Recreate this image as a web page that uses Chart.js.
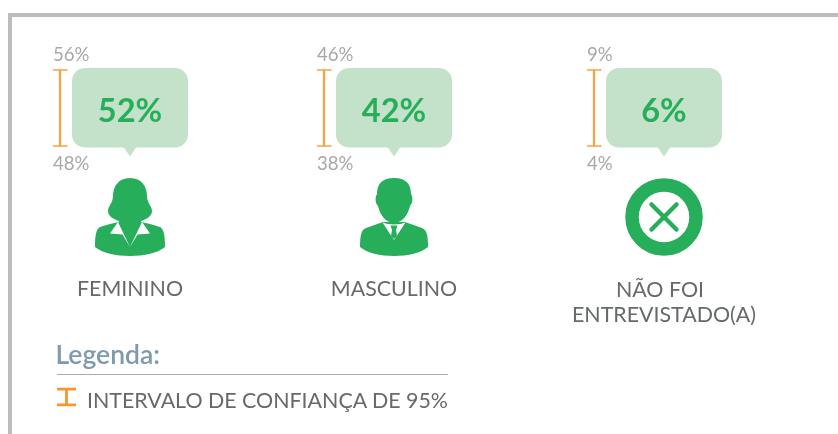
<!DOCTYPE html>
<html>
<head>
<meta charset="utf-8">
<script src="https://cdn.jsdelivr.net/npm/chart.js@4"></script>
<style>
	html, body { margin: 0; padding: 0; background: #fff; overflow: hidden; }
	body { width: 838px; height: 434px; position: relative; font-family: Lato, sans-serif; }
	canvas { position: absolute; top: 0; }
	#frameTop { position: absolute; left: 8px; top: 13px; width: 830px; height: 4px; background: #b9bebc; }
	#frameLeft { position: absolute; left: 8px; top: 13px; width: 4px; height: 421px; background: #b9bebc; }
	#legendTitle { position: absolute; left: 55.5px; top: 339px; font-size: 26.5px; line-height: 30px; font-weight: 600; color: #7f9aad; }
	#legendLine { position: absolute; left: 57px; top: 374px; width: 391px; height: 1px; background: #a9adad; }
	#legendIcon { position: absolute; left: 57px; top: 387px; }
	#legendText { position: absolute; left: 87px; top: 386.5px; font-size: 21.4px; line-height: 26px; color: #666a6a; white-space: nowrap; }
</style>
</head>
<body>
<div id="frameTop"></div>
<div id="frameLeft"></div>
<canvas id="card0" width="240" height="434" style="left:30px"></canvas>
<canvas id="card1" width="240" height="434" style="left:294px"></canvas>
<canvas id="card2" width="240" height="434" style="left:564px"></canvas>
<div id="legendTitle">Legenda:</div>
<div id="legendLine"></div>
<svg id="legendIcon" width="20" height="20">
	<path d="M0 2.2H19M0 17.8H19M9.5 2.2V17.8" stroke="#f7962e" stroke-width="2.8" fill="none"/>
</svg>
<div id="legendText">INTERVALO DE CONFIANÇA DE 95%</div>
<script>
var categories = [['FEMININO'], ['MASCULINO'], ['NÃO FOI', 'ENTREVISTADO(A)']];
var shares = [52, 42, 6];
var lowerBounds = [48, 38, 4];
var upperBounds = [56, 46, 9];
var icons = ['female', 'male', 'cross'];

var GREEN = '#27ae5a';
var BUBBLE = '#c4e2c9';
var ORANGE = '#f9a03f';
var BOUNDS_GREY = '#a8a8a8';
var LABEL_GREY = '#666a6a';

function drawFemale(ctx, cx) {
	ctx.fillStyle = GREEN;
	ctx.beginPath();
	ctx.moveTo(cx, 178);
	ctx.bezierCurveTo(cx + 12, 178, cx + 17, 187, cx + 17, 196);
	ctx.bezierCurveTo(cx + 17, 203, cx + 22, 206, cx + 22, 211);
	ctx.bezierCurveTo(cx + 22, 216, cx + 17, 219, cx + 11, 221);
	ctx.lineTo(cx + 11, 222);
	ctx.lineTo(cx + 20, 224);
	ctx.lineTo(cx + 30, 227);
	ctx.bezierCurveTo(cx + 34, 229, cx + 35, 236, cx + 35, 247);
	ctx.bezierCurveTo(cx + 28, 253, cx + 14, 256, cx, 256);
	ctx.bezierCurveTo(cx - 14, 256, cx - 28, 253, cx - 35, 247);
	ctx.bezierCurveTo(cx - 35, 236, cx - 34, 229, cx - 30, 227);
	ctx.lineTo(cx - 20, 224);
	ctx.lineTo(cx - 11, 222);
	ctx.lineTo(cx - 11, 221);
	ctx.bezierCurveTo(cx - 17, 219, cx - 22, 216, cx - 22, 211);
	ctx.bezierCurveTo(cx - 22, 206, cx - 17, 203, cx - 17, 196);
	ctx.bezierCurveTo(cx - 17, 187, cx - 12, 178, cx, 178);
	ctx.fill();

	// lapels
	ctx.fillStyle = '#fff';
	[-1, 1].forEach(function(side) {
		ctx.beginPath();
		ctx.moveTo(cx + side * 20, 233.5);
		ctx.lineTo(cx + side * 12, 222);
		ctx.lineTo(cx, 247);
		ctx.lineTo(cx + side * 7.5, 234.5);
		ctx.fill();
	});
}

function drawMale(ctx, cx) {
	ctx.fillStyle = GREEN;
	ctx.beginPath();
	ctx.moveTo(cx, 178);
	ctx.bezierCurveTo(cx + 12, 178, cx + 17, 184, cx + 17, 194);
	ctx.bezierCurveTo(cx + 19, 197, cx + 19, 203, cx + 16, 206);
	ctx.bezierCurveTo(cx + 14, 215, cx + 8, 223, cx, 223);
	ctx.bezierCurveTo(cx - 8, 223, cx - 14, 215, cx - 16, 206);
	ctx.bezierCurveTo(cx - 19, 203, cx - 19, 197, cx - 17, 194);
	ctx.bezierCurveTo(cx - 17, 184, cx - 12, 178, cx, 178);
	ctx.fill();

	ctx.beginPath();
	ctx.moveTo(cx - 11, 222);
	ctx.lineTo(cx + 11, 222);
	ctx.lineTo(cx + 28, 228);
	ctx.bezierCurveTo(cx + 33, 230, cx + 34, 236, cx + 34, 247);
	ctx.bezierCurveTo(cx + 27, 253, cx + 14, 256, cx, 256);
	ctx.bezierCurveTo(cx - 14, 256, cx - 27, 253, cx - 34, 247);
	ctx.bezierCurveTo(cx - 34, 236, cx - 33, 230, cx - 28, 228);
	ctx.closePath();
	ctx.fill();

	// shirt and tie
	ctx.fillStyle = '#fff';
	ctx.beginPath();
	ctx.moveTo(cx - 11.5, 222.5);
	ctx.bezierCurveTo(cx - 6, 225, cx + 6, 225, cx + 11.5, 222.5);
	ctx.lineTo(cx, 240);
	ctx.closePath();
	ctx.fill();
	ctx.fillStyle = GREEN;
	ctx.beginPath();
	ctx.moveTo(cx - 3.5, 225.5);
	ctx.lineTo(cx + 3.5, 225.5);
	ctx.lineTo(cx + 2, 230);
	ctx.lineTo(cx + 3, 236);
	ctx.lineTo(cx, 239);
	ctx.lineTo(cx - 3, 236);
	ctx.lineTo(cx - 2, 230);
	ctx.closePath();
	ctx.fill();
}

function drawCross(ctx, cx) {
	var cy = 217;
	ctx.strokeStyle = GREEN;
	ctx.lineWidth = 13.5;
	ctx.beginPath();
	ctx.arc(cx, cy, 32, 0, Math.PI * 2);
	ctx.stroke();
	ctx.lineWidth = 4.5;
	ctx.lineCap = 'round';
	ctx.beginPath();
	ctx.moveTo(cx - 12.5, cy - 12.5);
	ctx.lineTo(cx + 12.5, cy + 12.5);
	ctx.moveTo(cx + 12.5, cy - 12.5);
	ctx.lineTo(cx - 12.5, cy + 12.5);
	ctx.stroke();
}

var iconDrawers = { female: drawFemale, male: drawMale, cross: drawCross };

// caps, bounds, speech bubble, icon and category name around the whisker bar
var cardDecor = {
	id: 'cardDecor',
	afterDatasetsDraw: function(chart, args, opts) {
		var i = opts.index;
		var ctx = chart.ctx;
		var bar = chart.getDatasetMeta(0).data[0];
		var x = bar.x;
		var top = bar.y;
		var bottom = bar.base;
		var cx = x + 70;

		ctx.save();
		ctx.strokeStyle = ORANGE;
		ctx.lineWidth = 1.5;
		ctx.beginPath();
		ctx.moveTo(x - 7, top);
		ctx.lineTo(x + 7.5, top);
		ctx.moveTo(x - 7, bottom);
		ctx.lineTo(x + 7.5, bottom);
		ctx.stroke();

		ctx.fillStyle = BOUNDS_GREY;
		ctx.font = '18.6px Lato';
		ctx.textAlign = 'left';
		ctx.textBaseline = 'middle';
		ctx.fillText(upperBounds[i] + '%', x - 7, top - 15);
		ctx.fillText(lowerBounds[i] + '%', x - 7, bottom + 17.5);

		ctx.fillStyle = BUBBLE;
		ctx.beginPath();
		ctx.roundRect(x + 12, 68, 116, 79.5, 13);
		ctx.fill();
		ctx.beginPath();
		ctx.moveTo(cx - 6.5, 147);
		ctx.lineTo(cx + 6.5, 147);
		ctx.lineTo(cx, 156.5);
		ctx.closePath();
		ctx.fill();

		ctx.fillStyle = GREEN;
		ctx.font = 'bold 32.5px Lato';
		ctx.textAlign = 'center';
		ctx.fillText(shares[i] + '%', cx, 111.5);

		iconDrawers[icons[i]](ctx, cx);

		ctx.fillStyle = LABEL_GREY;
		ctx.font = '21.4px Lato';
		ctx.lineCap = 'butt';
		categories[i].forEach(function(line, n) {
			// the short first line of a two line label sits a little left and low
			var wrapped = categories[i].length > 1 && n == 0;
			ctx.fillText(line, wrapped ? cx - 4 : cx, wrapped ? 290 : 289 + n * 26);
		});
		ctx.restore();
	}
};

function loadCard(i) {
	var cardElement = document.getElementById('card' + i);
	return new Chart(cardElement, {
		type: 'bar',
		data: {
			labels: [categories[i].join(' ')],
			datasets: [{
				label: 'Intervalo de confiança de 95%',
				data: [[lowerBounds[i], upperBounds[i]]],
				backgroundColor: ORANGE,
				barThickness: 1.5
			}]
		},
		plugins: [cardDecor],
		options: {
			responsive: false,
			animation: false,
			layout: { padding: { left: 0, right: 180, top: 70, bottom: 288 } },
			scales: {
				x: { display: false },
				// every whisker is the same height in the original, so each card has its own range
				y: { display: false, min: lowerBounds[i], max: upperBounds[i] }
			},
			plugins: {
				legend: { display: false },
				tooltip: { enabled: false },
				cardDecor: { index: i }
			}
		}
	});
}

categories.forEach(function(c, i) {
	loadCard(i);
});
</script>
</body>
</html>
